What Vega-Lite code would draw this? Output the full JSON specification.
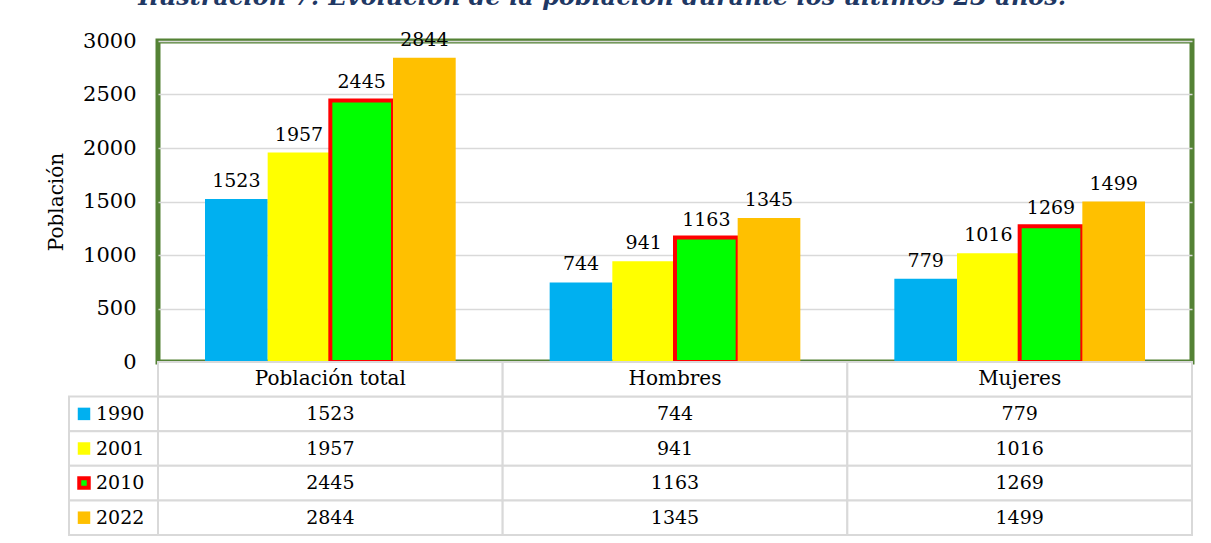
{
  "$schema": "https://vega.github.io/schema/vega-lite/v6.json",
  "padding": {"left": 44, "top": -15, "right": 20, "bottom": 8},
  "background": "white",
  "title": {
    "text": "Ilustración 7: Evolución de la población durante los últimos 23 años.",
    "font": "DejaVu Serif",
    "fontSize": 24,
    "fontStyle": "italic",
    "fontWeight": "bold",
    "color": "#1F3864",
    "anchor": "middle",
    "dx": -17,
    "offset": 18
  },
  "datasets": {
    "pop": [
      {"grupo": "Población total", "anio": "1990", "valor": 1523},
      {"grupo": "Población total", "anio": "2001", "valor": 1957},
      {"grupo": "Población total", "anio": "2010", "valor": 2445},
      {"grupo": "Población total", "anio": "2022", "valor": 2844},
      {"grupo": "Hombres", "anio": "1990", "valor": 744},
      {"grupo": "Hombres", "anio": "2001", "valor": 941},
      {"grupo": "Hombres", "anio": "2010", "valor": 1163},
      {"grupo": "Hombres", "anio": "2022", "valor": 1345},
      {"grupo": "Mujeres", "anio": "1990", "valor": 779},
      {"grupo": "Mujeres", "anio": "2001", "valor": 1016},
      {"grupo": "Mujeres", "anio": "2010", "valor": 1269},
      {"grupo": "Mujeres", "anio": "2022", "valor": 1499}
    ]
  },
  "columns": 2,
  "spacing": 0,
  "bounds": "flush",
  "resolve": {"scale": {"x": "independent", "y": "independent", "fill": "independent", "stroke": "independent"}},
  "concat": [
    {
      "data": {"values": [{"k": 1}]},
      "width": 89,
      "height": 321,
      "view": {"stroke": null},
      "mark": {"type": "text", "text": ""}
    },
    {
      "data": {"name": "pop"},
      "width": 1034,
      "height": 321,
      "view": {"stroke": "#548235", "strokeWidth": 5, "strokeOpacity": 1},
      "encoding": {
        "x": {"field": "grupo", "type": "nominal", "sort": ["Población total", "Hombres", "Mujeres"], "scale": {"paddingInner": 0, "paddingOuter": 0}, "axis": null},
        "xOffset": {"field": "anio", "type": "nominal", "sort": ["1990", "2001", "2010", "2022"], "scale": {"paddingInner": 0, "paddingOuter": 0.75}},
        "y": {
          "field": "valor", "type": "quantitative",
          "scale": {"domain": [0, 3000], "nice": false},
          "axis": {
            "values": [0, 500, 1000, 1500, 2000, 2500, 3000],
            "format": "d",
            "title": "Población",
            "titleFontSize": 20,
            "titleFontWeight": "normal",
            "titleColor": "#000000",
            "titlePadding": 16,
            "labelFontSize": 21,
            "labelColor": "#000000",
            "labelPadding": 22,
            "ticks": false,
            "tickSize": 0,
            "domain": false,
            "gridColor": "#D9D9D9",
            "gridWidth": 1.5
          }
        }
      },
      "layer": [
        {
          "mark": {"type": "bar"},
          "encoding": {
            "fill": {"field": "anio", "type": "nominal", "scale": {"domain": ["1990", "2001", "2010", "2022"], "range": ["#00B0F0", "#FFFF00", "#00FF00", "#FFC000"]}, "legend": null},
            "stroke": {"condition": {"test": "datum.anio === '2010'", "value": "#FF0000"}, "value": null},
            "strokeWidth": {"value": 4}
          }
        },
        {
          "mark": {"type": "text", "baseline": "alphabetic", "dy": -12, "fontSize": 19, "color": "#000000"},
          "encoding": {"text": {"field": "valor", "type": "quantitative"}}
        }
      ]
    },
    {
      "data": {"name": "pop"},
      "transform": [{"filter": "datum.grupo === 'Población total'"}],
      "width": 89,
      "height": 173,
      "view": {"stroke": null},
      "encoding": {
        "y": {"field": "anio", "type": "nominal", "scale": {"domain": ["h", "1990", "2001", "2010", "2022"], "paddingInner": 0, "paddingOuter": 0}, "axis": null}
      },
      "layer": [
        {"mark": {"type": "rect", "fill": "white", "stroke": "#D9D9D9", "strokeWidth": 2}},
        {
          "mark": {"type": "point", "shape": "square", "filled": true, "xOffset": -29.5, "opacity": 1},
          "encoding": {
            "fill": {"field": "anio", "type": "nominal", "scale": {"domain": ["1990", "2001", "2010", "2022"], "range": ["#00B0F0", "#FFFF00", "#00FF00", "#FFC000"]}, "legend": null},
            "stroke": {"condition": {"test": "datum.anio === '2010'", "value": "#FF0000"}, "value": null},
            "strokeWidth": {"condition": {"test": "datum.anio === '2010'", "value": 4}, "value": 0},
            "size": {"condition": {"test": "datum.anio === '2010'", "value": 90}, "value": 156}
          }
        },
        {
          "mark": {"type": "text", "align": "left", "baseline": "middle", "dx": -17.5, "fontSize": 19, "color": "#000000"},
          "encoding": {"text": {"field": "anio", "type": "nominal"}}
        }
      ]
    },
    {
      "data": {"name": "pop"},
      "width": 1034,
      "height": 173,
      "view": {"stroke": null},
      "encoding": {
        "x": {"field": "grupo", "type": "nominal", "sort": ["Población total", "Hombres", "Mujeres"], "scale": {"paddingInner": 0, "paddingOuter": 0}, "axis": null},
        "y": {"field": "anio", "type": "nominal", "scale": {"domain": ["h", "1990", "2001", "2010", "2022"], "paddingInner": 0, "paddingOuter": 0}, "axis": null}
      },
      "layer": [
        {"mark": {"type": "rect", "fill": "white", "stroke": "#D9D9D9", "strokeWidth": 2}},
        {
          "mark": {"type": "text", "baseline": "middle", "fontSize": 19, "color": "#000000"},
          "encoding": {"text": {"field": "valor", "type": "quantitative"}}
        },
        {
          "transform": [{"filter": "datum.anio === '1990'"}],
          "mark": {"type": "rect", "fill": "white", "stroke": "#D9D9D9", "strokeWidth": 2},
          "encoding": {"y": {"datum": "h"}}
        },
        {
          "transform": [{"filter": "datum.anio === '1990'"}],
          "mark": {"type": "text", "baseline": "middle", "fontSize": 20, "color": "#000000"},
          "encoding": {"y": {"datum": "h"}, "text": {"field": "grupo", "type": "nominal"}}
        }
      ]
    }
  ],
  "config": {
    "font": "DejaVu Serif",
    "view": {"stroke": null}
  }
}
